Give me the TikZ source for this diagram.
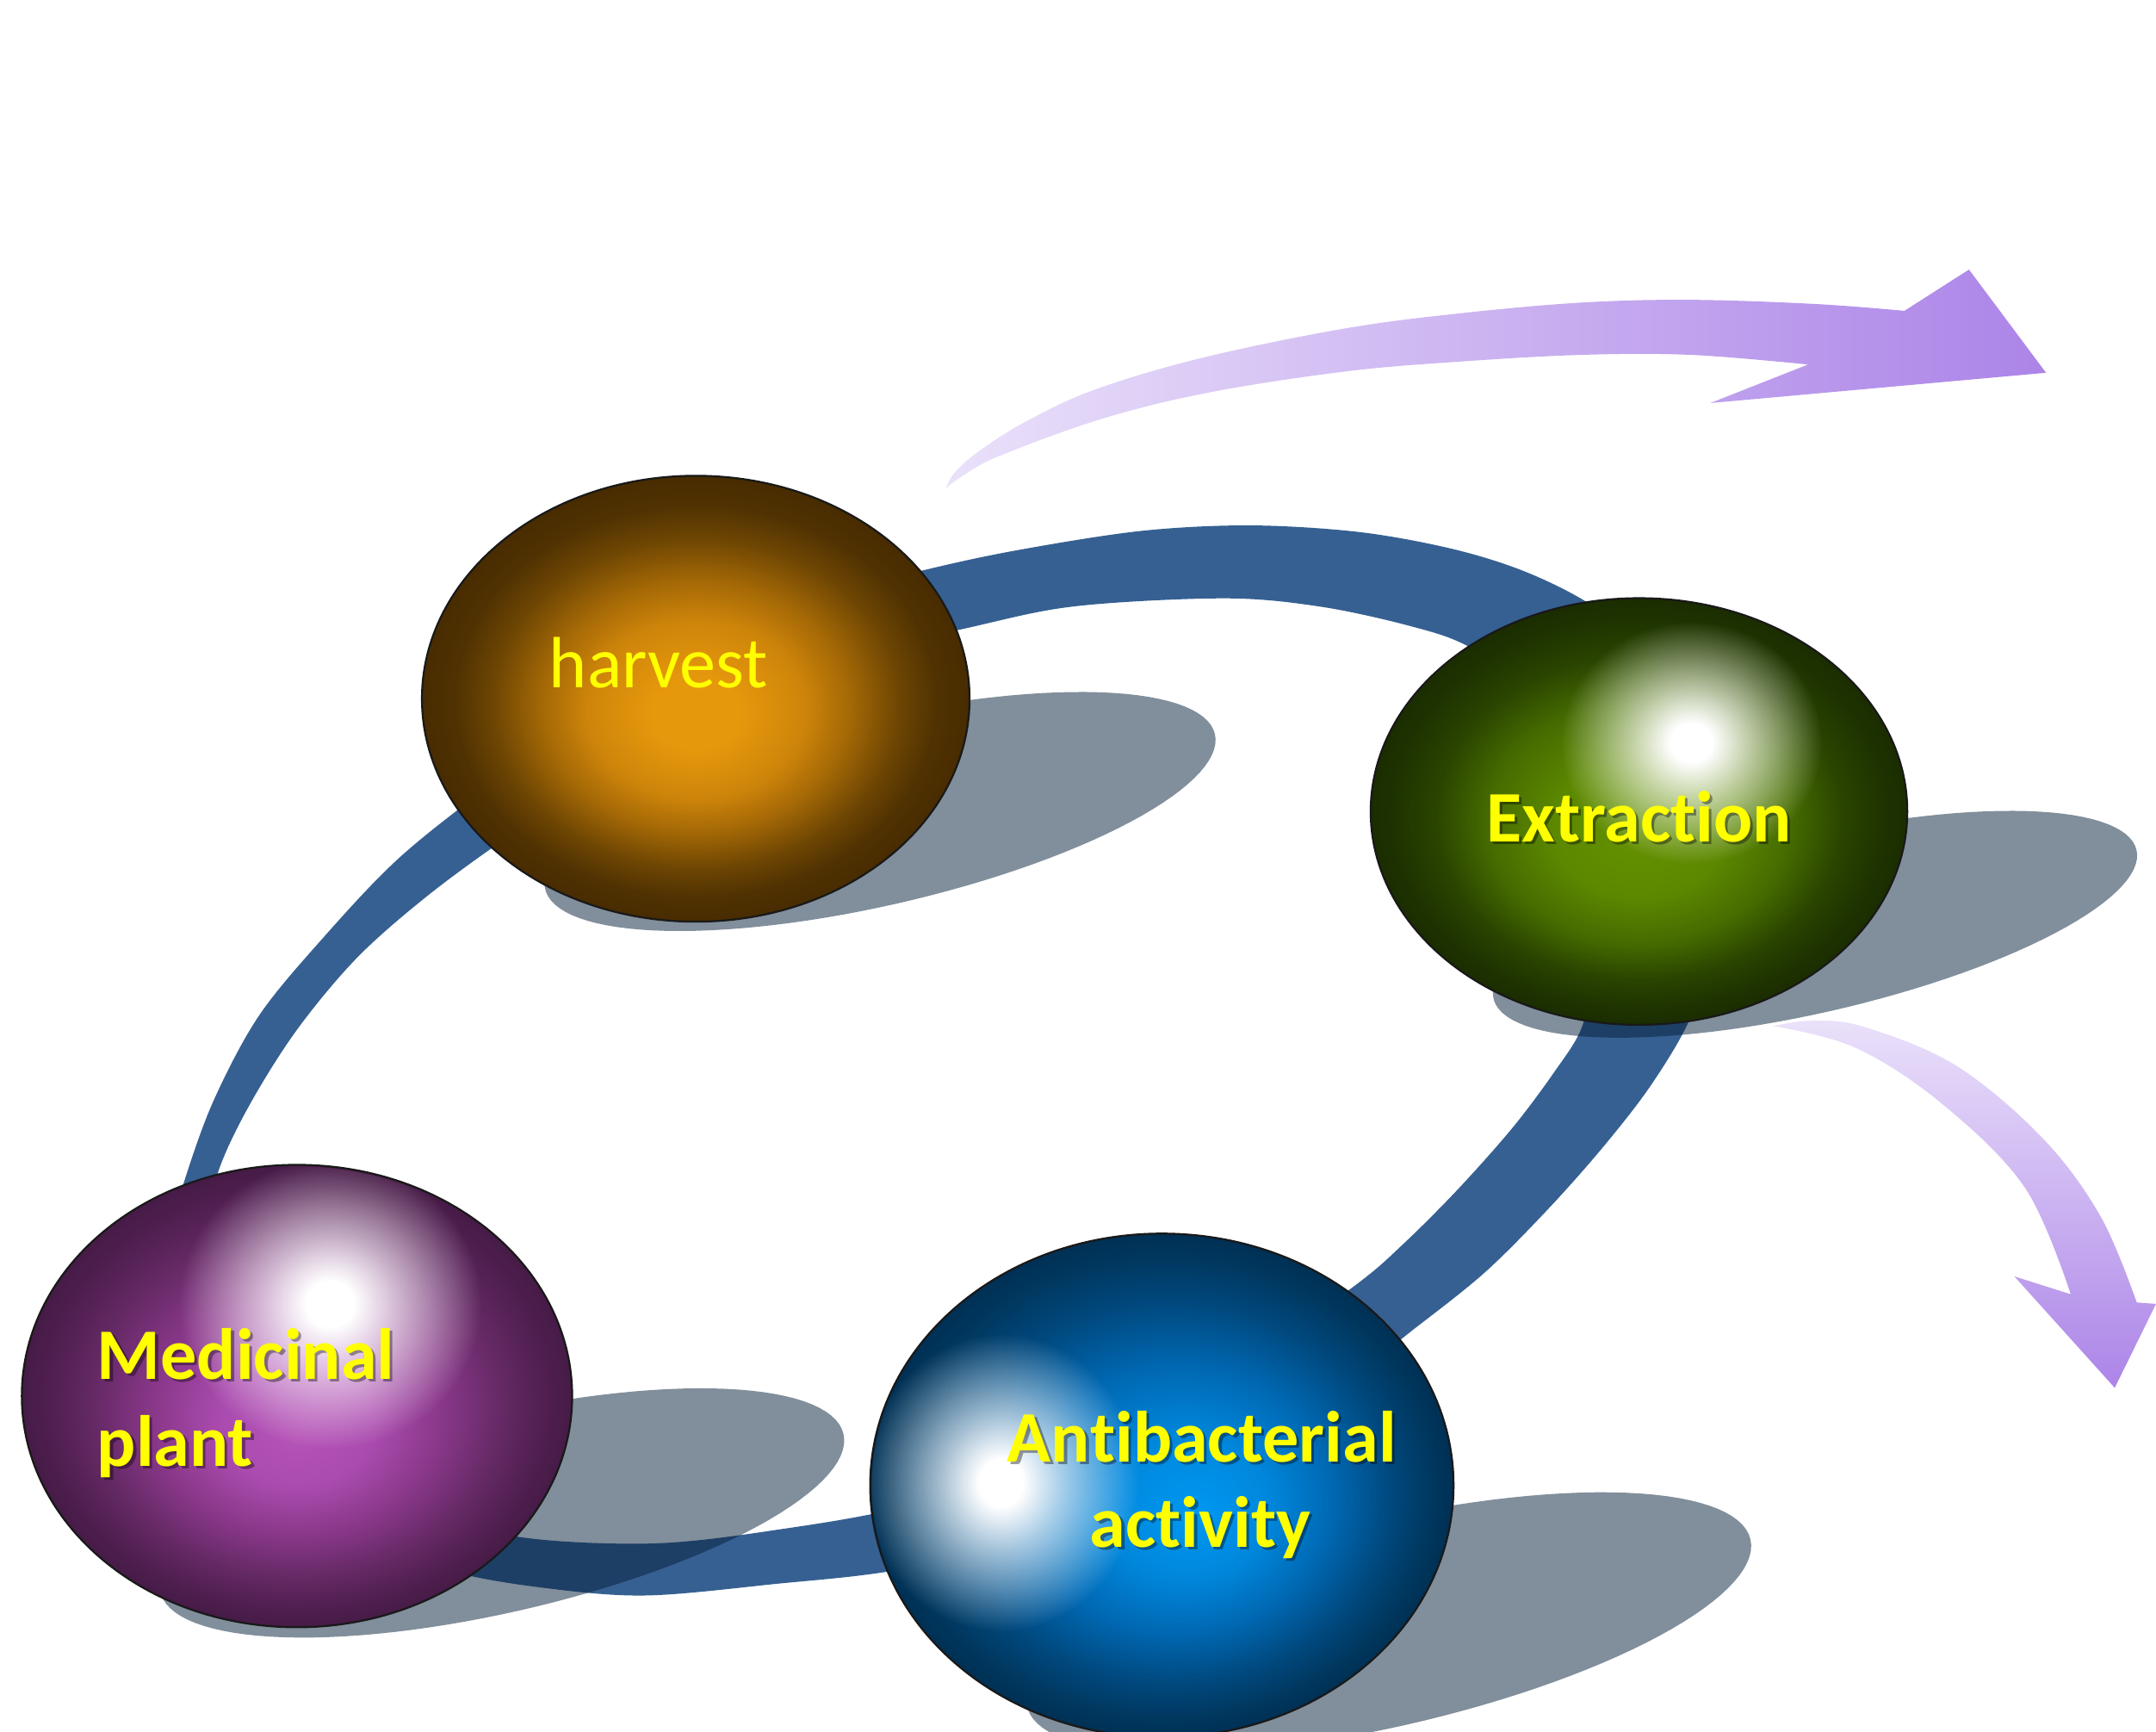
\documentclass[tikz,border=0pt]{standalone}
\usepackage{fontspec}
\setmainfont{Carlito}[Ligatures=CommonOff]
\usetikzlibrary{shapes.geometric,fadings}
\definecolor{bandblue}{RGB}{54,96,146}
\definecolor{shadowc}{RGB}{5,31,57}
\definecolor{txtyellow}{RGB}{255,255,0}
\definecolor{arrlight}{RGB}{234,225,250}
\definecolor{arrdark}{RGB}{172,132,232}
% harvest
\definecolor{hv0}{RGB}{230,152,12}
\definecolor{hv1}{RGB}{205,132,10}
\definecolor{hv2}{RGB}{165,105,6}
\definecolor{hv3}{RGB}{110,70,3}
\definecolor{hv4}{RGB}{80,50,2}
\definecolor{hv5}{RGB}{72,44,0}
% extraction
\definecolor{ex0}{RGB}{100,145,0}
\definecolor{ex1}{RGB}{92,136,0}
\definecolor{ex2}{RGB}{70,108,0}
\definecolor{ex3}{RGB}{42,68,0}
\definecolor{ex4}{RGB}{30,50,0}
\definecolor{ex5}{RGB}{27,45,0}
% medicinal
\definecolor{md0}{RGB}{182,84,184}
\definecolor{md1}{RGB}{170,75,175}
\definecolor{md2}{RGB}{138,56,138}
\definecolor{md3}{RGB}{98,40,98}
\definecolor{md4}{RGB}{78,30,78}
\definecolor{md5}{RGB}{70,27,70}
% antibacterial
\definecolor{ab0}{RGB}{0,152,242}
\definecolor{ab1}{RGB}{0,135,220}
\definecolor{ab2}{RGB}{0,105,180}
\definecolor{ab3}{RGB}{0,72,125}
\definecolor{ab4}{RGB}{0,55,94}
\definecolor{ab5}{RGB}{0,48,84}
\pgfdeclareradialshading{hvshade}{\pgfpoint{0bp}{-2bp}}{color(0bp)=(hv0); color(4bp)=(hv0); color(10bp)=(hv1); color(14bp)=(hv2); color(18.5bp)=(hv3); color(22bp)=(hv4); color(25bp)=(hv5)}
\pgfdeclareradialshading{exshade}{\pgfpoint{0bp}{-3bp}}{color(0bp)=(ex0); color(8bp)=(ex1); color(14bp)=(ex2); color(19bp)=(ex3); color(23bp)=(ex4); color(25bp)=(ex5)}
\pgfdeclareradialshading{mdshade}{\pgfpoint{0bp}{-4bp}}{color(0bp)=(md0); color(7bp)=(md1); color(13bp)=(md2); color(19bp)=(md3); color(23bp)=(md4); color(25bp)=(md5)}
\pgfdeclareradialshading{abshade}{\pgfpoint{3bp}{-3bp}}{color(0bp)=(ab0); color(7bp)=(ab1); color(13bp)=(ab2); color(19bp)=(ab3); color(23bp)=(ab4); color(25bp)=(ab5)}
\pgfdeclareradialshading{glowsh}{\pgfpointorigin}{color(0bp)=(white); color(4bp)=(white); color(11bp)=(black!35!white); color(25bp)=(black); color(50bp)=(black)}
\pgfdeclarefading{glowfade}{\pgfuseshading{glowsh}}
\newcommand\shadowell[5]{\fill[shadowc, fill opacity=0.5] plot[domain=0:360, samples=120] ({#1+#3*cos(\x)*cos(#5)-#4*sin(\x)*sin(#5)},{#2-#3*cos(\x)*sin(#5)-#4*sin(\x)*cos(#5)}) -- cycle;}
\tikzset{
  sphere/.style={ellipse, inner sep=0pt, draw=black!90, line width=0.4pt},
  glow/.style={fill=white, path fading=glowfade},
  lbl/.style={text=txtyellow, inner sep=0pt, anchor=base, font=\fontsize{15}{18}\selectfont},
  lblb/.style={lbl, font=\fontsize{15}{18}\selectfont\bfseries},
  tshadow/.style={text=black, text opacity=0.38},
  fatarrow/.style={draw=none}
}
\begin{document}
\begin{tikzpicture}[x=0.01cm,y=-0.01cm]
\fill[white] (0,0) rectangle (1568,1259);
\useasboundingbox (0,0) rectangle (1568,1259);

% purple arrows
\shade[fatarrow, left color=arrlight, right color=arrdark]
  (688,355) -- plot[smooth, tension=0.6] coordinates {(688,355) (694,344) (712,328) (747,306) (797,283) (875,260) (977,239) (1060,228) (1150,220) (1230,218) (1320,221) (1385,226)}
  -- (1432,196) -- (1488,271) -- (1244,293) -- (1315,265)
  -- plot[smooth, tension=0.6] coordinates {(1315,265) (1230,258) (1150,258) (1060,263) (979,270) (881,285) (803,304) (728,331) (700,346) (688,355)} -- cycle;
\shade[fatarrow, top color=arrlight, bottom color=arrdark]
  (1290,746) -- plot[smooth, tension=0.6] coordinates {(1290,746) (1319,742) (1357,747) (1423,775) (1486,828) (1528,885) (1554,947)}
  -- (1568,948) -- (1538,1009) -- (1465,928) -- (1506,941)
  -- plot[smooth, tension=0.6] coordinates {(1506,941) (1473,864) (1413,803) (1350,762) (1290,746)} -- cycle;

% ring band
\fill[bandblue, even odd rule]
  plot[smooth cycle, tension=0.55] coordinates {(670,415) (740,400) (830,386) (910,382) (990,387) (1060,400) (1115,418) (1165,445) (1215,490) (1245,560) (1248,640) (1240,700) (1228,743) (1200,790) (1165,835) (1125,880) (1080,925) (1030,965) (970,1010) (880,1060) (760,1110) (660,1140) (560,1152) (470,1160) (400,1155) (330,1143) (240,1115) (165,1065) (125,990) (120,910) (133,862) (155,801) (188,739) (234,683) (290,624) (360,568) (450,500) (560,443)}
  plot[smooth cycle, tension=0.55] coordinates {(697,458) (780,441) (890,435) (960,441) (1025,455) (1068,470) (1120,505) (1155,560) (1165,640) (1158,710) (1150,748) (1130,780) (1100,820) (1060,865) (1020,905) (985,935) (900,995) (790,1055) (660,1095) (560,1113) (480,1122) (400,1120) (340,1110) (260,1085) (200,1040) (160,990) (148,905) (158,854) (180,806) (215,750) (259,697) (310,652) (370,608) (460,548) (590,482)};

% shadows
\shadowell{640}{590}{250}{68}{13}
\shadowell{1320}{672}{240}{64}{13}
\shadowell{365}{1100}{255}{72}{13}
\shadowell{1010}{1180}{270}{75}{13}

% spheres
\node[sphere, shading=hvshade, minimum width=3.98cm, minimum height=3.24cm] (harvest) at (506,508) {};
\node[sphere, shading=exshade, minimum width=3.90cm, minimum height=3.10cm] (extraction) at (1192,590) {};
\node[sphere, shading=mdshade, minimum width=4.00cm, minimum height=3.36cm] (medicinal) at (216,1015) {};
\node[sphere, shading=abshade, minimum width=4.24cm, minimum height=3.66cm] (antibacterial) at (845,1080) {};

% highlights
\begin{scope}
  \clip (1192,590) ellipse (194 and 154);
  \fill[glow] (1230,540) ellipse (95 and 88);
\end{scope}
\begin{scope}
  \clip (216,1015) ellipse (199 and 167);
  \fill[glow] (240,948) ellipse (110 and 105);
\end{scope}
\begin{scope}
  \clip (845,1080) ellipse (211 and 182);
  \fill[glow] (728,1078) ellipse (100 and 108);
\end{scope}

% labels
\node[lbl] (hvt) at (479,500) {harvest};
\node[lblb, tshadow] (exs) at (1194,614) {Extrac\mbox{t}ion};
\node[lblb] (ext) at (1192,612) {Extrac\mbox{t}ion};
\node[lblb, tshadow, anchor=base west] (md1s) at (72,1005) {Medicinal};
\node[lblb, anchor=base west] (md1t) at (70,1003) {Medicinal};
\node[lblb, tshadow, anchor=base west] (md2s) at (72,1068) {plant};
\node[lblb, anchor=base west] (md2t) at (70,1066) {plant};
\node[lblb, tshadow] (ab1s) at (876,1065) {An\mbox{t}ibacterial};
\node[lblb] (ab1t) at (874,1063) {An\mbox{t}ibacterial};
\node[lblb, tshadow] (ab2s) at (875,1127) {ac\mbox{t}ivi\mbox{t}y};
\node[lblb] (ab2t) at (873,1125) {ac\mbox{t}ivi\mbox{t}y};
\end{tikzpicture}
\end{document}
